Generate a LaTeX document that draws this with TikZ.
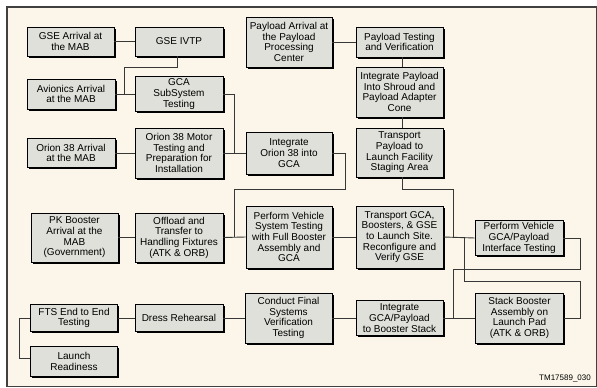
\documentclass[tikz,border=0pt]{standalone}
\usepackage{fontspec}
\setmainfont{Liberation Sans}
\usetikzlibrary{shadows}
\definecolor{cream}{RGB}{251,246,233}
\definecolor{boxfill}{RGB}{222,224,217}
\definecolor{linec}{RGB}{55,55,55}
\begin{document}
\begin{tikzpicture}[x=1pt,y=-1pt,
  box/.style={draw=black, line width=0.7pt, fill=boxfill, inner sep=0pt, align=center,
    font=\fontsize{10}{10.7}\selectfont,
    drop shadow={shadow xshift=1.6pt, shadow yshift=-1.6pt, fill=black, opacity=1}},
  conn/.style={draw=linec, line width=0.9pt}]
\useasboundingbox (0,0) rectangle (597,388);
\fill[white] (0,0) rectangle (597,388);
\draw[fill=cream, draw=black!75, line width=1.4pt] (7,7) rectangle (596.5,386.5);

% top-left column
\node[box, minimum width=87pt, minimum height=29pt] (gsea) at (70.5,41.5) {GSE Arrival at\\the MAB};
\node[box, minimum width=88pt, minimum height=29pt] (gseivtp) at (179,41.5) {GSE IVTP};
\node[box, minimum width=88pt, minimum height=30pt] (avio) at (71,94) {Avionics Arrival\\at the MAB};
\node[box, minimum width=88pt, minimum height=35pt] (gcass) at (179,94) {GCA\\SubSystem\\Testing};
\node[box, minimum width=88pt, minimum height=29pt] (o38a) at (71,153) {Orion 38 Arrival\\at the MAB};
\node[box, minimum width=88pt, minimum height=50pt] (o38m) at (179,153) {Orion 38 Motor\\Testing and\\Preparation for\\Installation};
\node[box, minimum width=86pt, minimum height=42pt] (into) at (289,153) {Integrate\\Orion 38 into\\GCA};

% payload column
\node[box, minimum width=86pt, minimum height=50pt] (payarr) at (289,42) {Payload Arrival at\\the Payload\\Processing\\Center};
\node[box, minimum width=87pt, minimum height=30pt] (paytest) at (399.5,42) {Payload Testing\\and Verification};
\node[box, minimum width=87pt, minimum height=50pt] (intpay) at (399.5,92) {Integrate Payload\\Into Shroud and\\Payload Adapter\\Cone};
\node[box, minimum width=87pt, minimum height=49pt] (transpay) at (399.5,152.5) {Transport\\Payload to\\Launch Facility\\Staging Area};

% middle row
\node[box, minimum width=87pt, minimum height=49pt] (pk) at (74.5,237.5) {PK Booster\\Arrival at the\\MAB\\(Government)};
\node[box, minimum width=88pt, minimum height=49pt] (offload) at (179,237.5) {Offload and\\Transfer to\\Handling Fixtures\\(ATK \& ORB)};
\node[box, minimum width=86pt, minimum height=62pt] (pvst) at (289,237) {Perform Vehicle\\System Testing\\with Full Booster\\Assembly and\\GCA};
\node[box, minimum width=87pt, minimum height=62pt] (transgca) at (399.5,237) {Transport GCA,\\Boosters, \& GSE\\to Launch Site.\\Reconfigure and\\Verify GSE};
\node[box, minimum width=88pt, minimum height=35pt] (pvgp) at (519,238) {Perform Vehicle\\GCA/Payload\\Interface Testing};

% bottom row
\node[box, minimum width=88pt, minimum height=50pt] (stack) at (519.5,318) {Stack Booster\\Assembly on\\Launch Pad\\(ATK \& ORB)};
\node[box, minimum width=87pt, minimum height=35pt] (intgp) at (399.5,318) {Integrate\\GCA/Payload\\to Booster Stack};
\node[box, minimum width=87pt, minimum height=50pt] (cfsvt) at (288.5,318) {Conduct Final\\Systems\\Verification\\Testing};
\node[box, minimum width=88pt, minimum height=27pt] (dress) at (179,318) {Dress Rehearsal};
\node[box, minimum width=87pt, minimum height=27pt] (fts) at (74,318) {FTS End to End\\Testing};
\node[box, minimum width=87pt, minimum height=30pt] (lr) at (74,361.5) {Launch\\Readiness};

\node[anchor=base east, font=\fontsize{8}{9}\selectfont, inner sep=0pt] (tm) at (591,380) {TM17589\_030};

% junction coordinates
\coordinate (j1) at (124,94);
\coordinate (j2) at (234,153);
\coordinate (j3) at (234,237);
\coordinate (j4) at (453,237);
\coordinate (j5) at (464,237);
\coordinate (j6) at (453,318);

% connectors
\draw[conn] (gsea.east) -- (gseivtp.west);
\draw[conn] ([xshift=-2pt]gseivtp.south) -- ++(0,11) -| (j1);
\draw[conn] (avio.east) -- (gcass.west);
\draw[conn] (gcass.east) -| (j2);
\draw[conn] (o38a.east) -- (o38m.west);
\draw[conn] (o38m.east) -- (into.west);
\draw[conn] (into.east) -- ++(13,0) -- ++(0,36) -| (j3);
\draw[conn] (payarr.east) -- (paytest.west);
\draw[conn] ([xshift=3pt]paytest.south) -- ([xshift=3pt]intpay.north);
\draw[conn] ([xshift=3pt]intpay.south) -- ([xshift=3pt]transpay.north);
\draw[conn] ([xshift=3pt]transpay.south) -- ++(0,12) -| (j4);
\draw[conn] (pk.east) -- (offload.west);
\draw[conn] (offload.east) -- (pvst.west);
\draw[conn] (pvst.east) -- (transgca.west);
\draw[conn] (transgca.east) -- (pvgp.west);
\draw[conn] (j5) -- ++(0,44) -- ++(116,0) |- (stack.east);
\draw[conn] (pvgp.east) -- ++(17,0) -- ++(0,31) -| (j6);
\draw[conn] (intgp.east) -- (stack.west);
\draw[conn] (cfsvt.east) -- (intgp.west);
\draw[conn] (dress.east) -- (cfsvt.west);
\draw[conn] (fts.east) -- (dress.west);
\draw[conn] (fts.west) -- ++(-11,0) |- ([yshift=3.5pt]lr.west);
\end{tikzpicture}
\end{document}
